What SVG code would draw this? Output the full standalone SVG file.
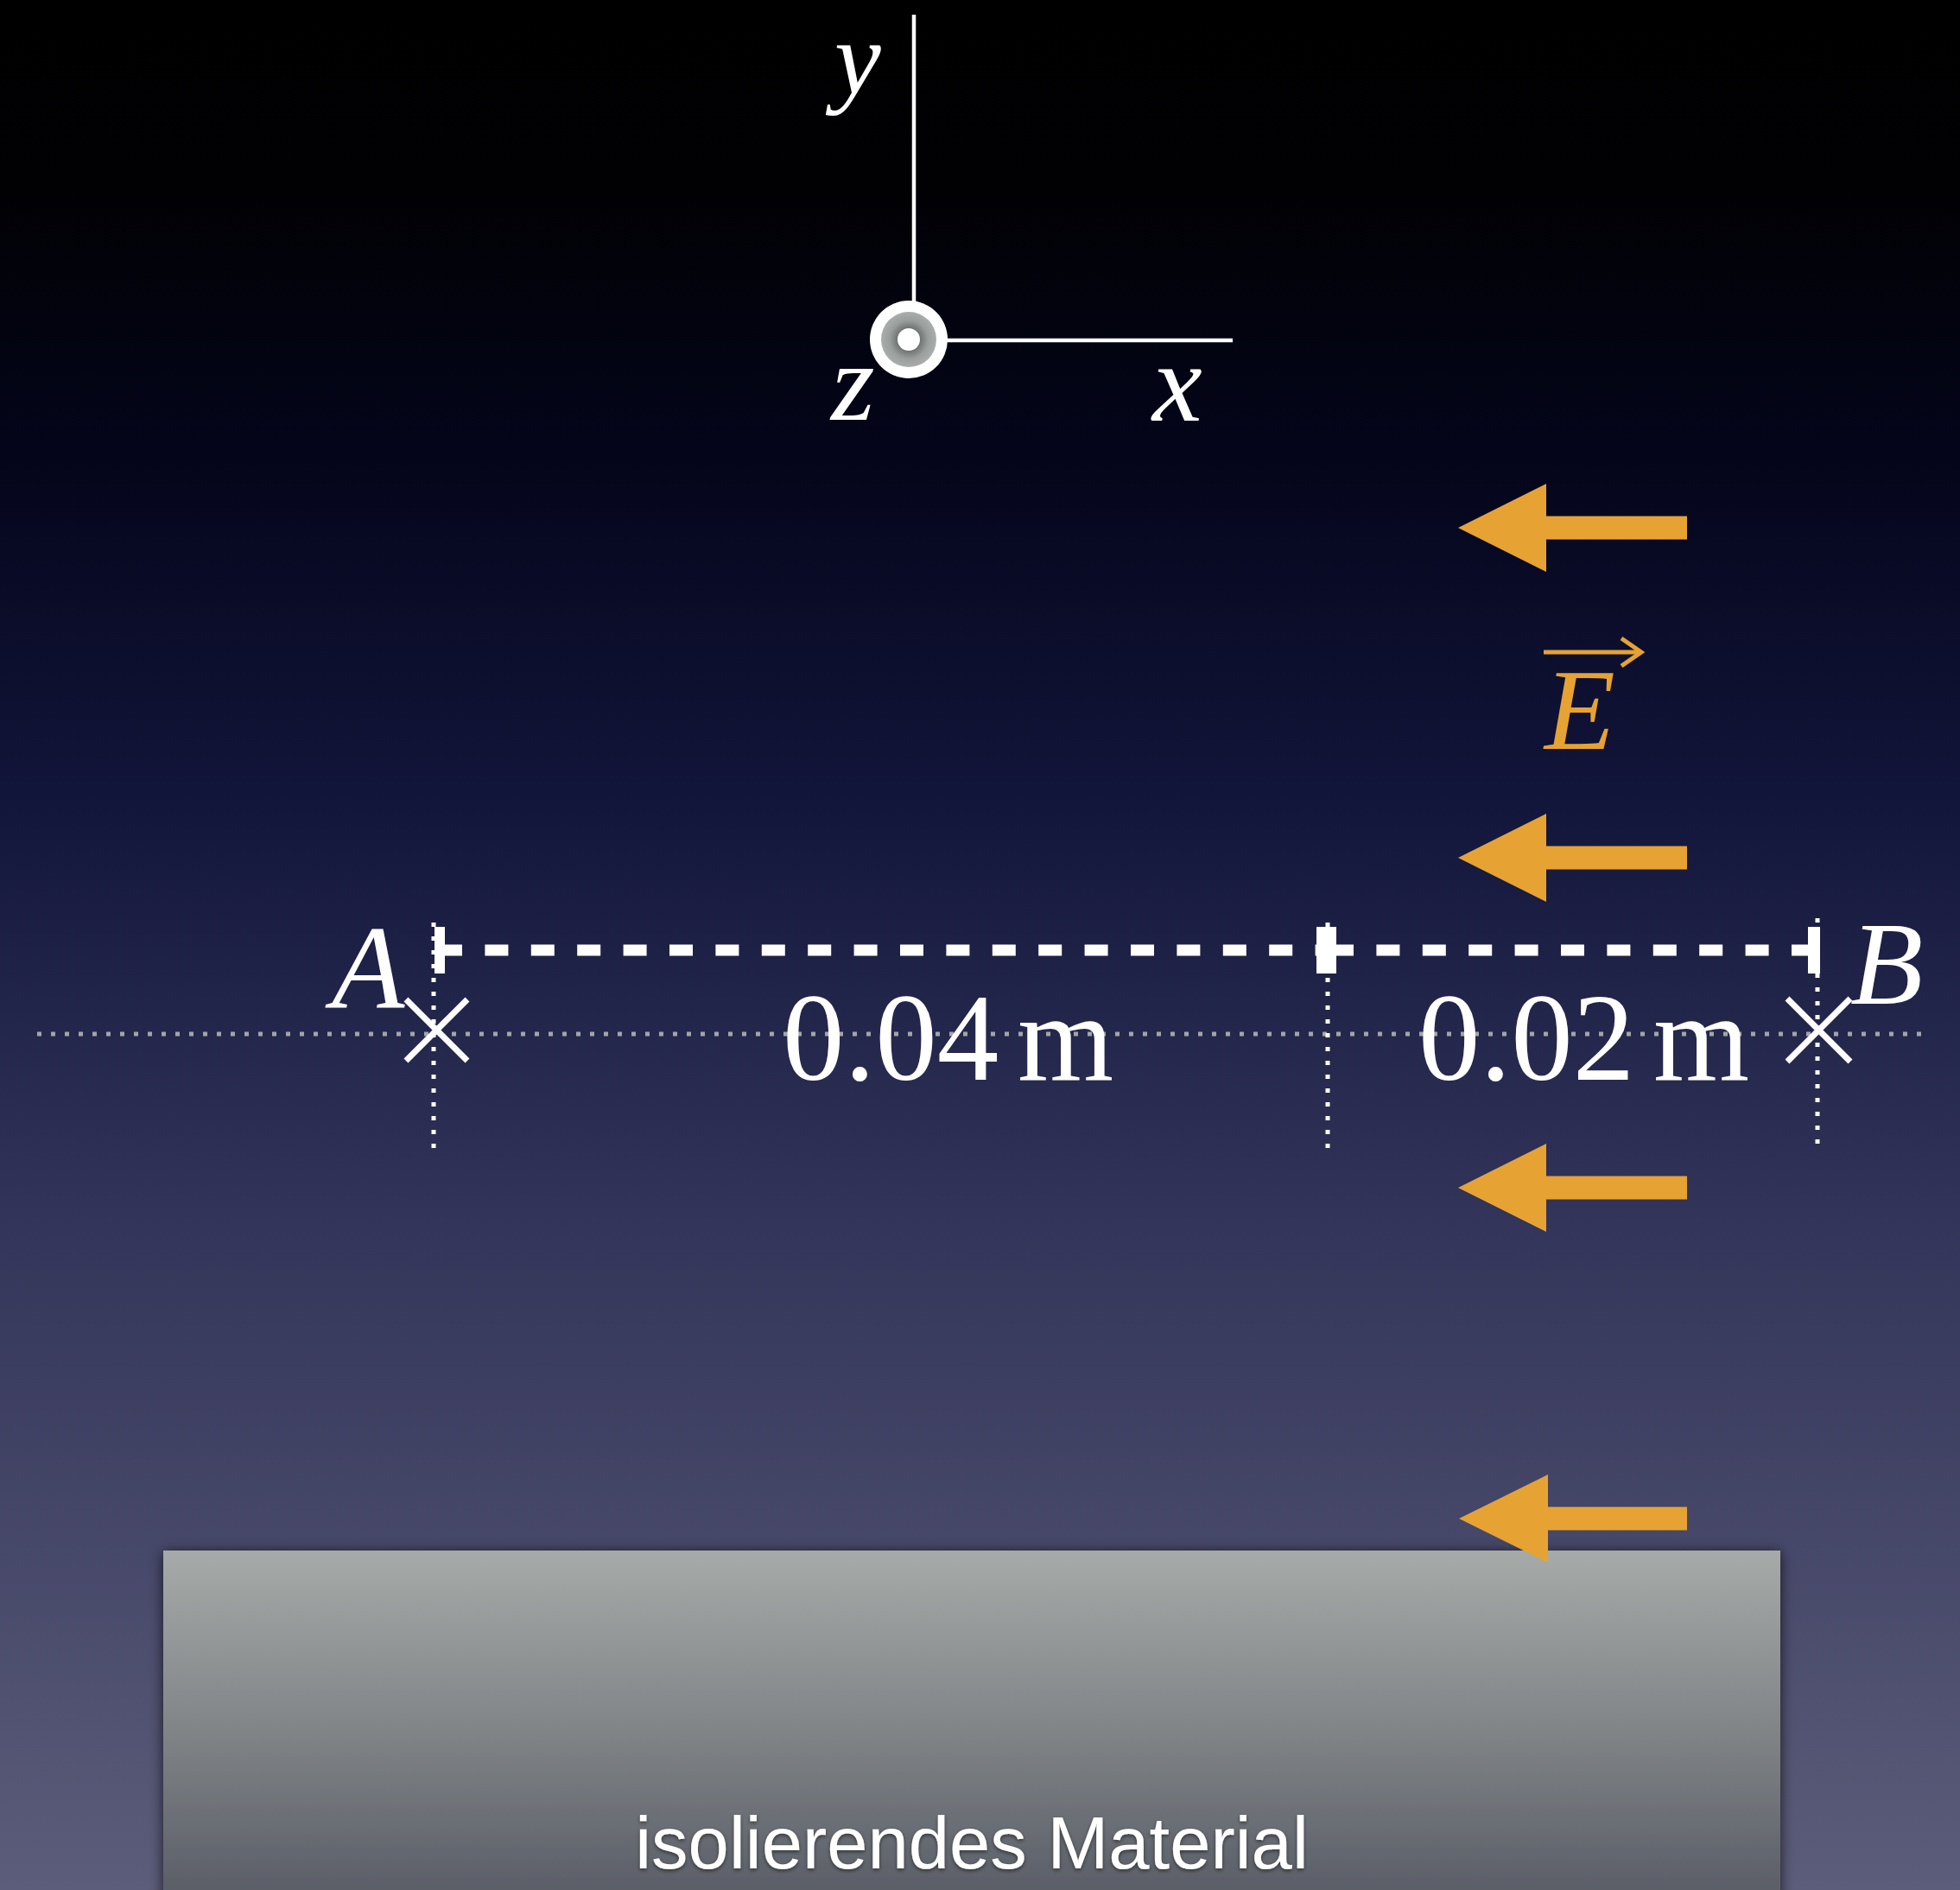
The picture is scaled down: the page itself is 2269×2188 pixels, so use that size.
<svg xmlns="http://www.w3.org/2000/svg" width="2269" height="2188" viewBox="0 0 2269 2188">
  <defs>
    <linearGradient id="bg" x1="0" y1="0" x2="0" y2="1">
      <stop offset="0" stop-color="#000000"/>
      <stop offset="0.1" stop-color="#010104"/>
      <stop offset="0.24" stop-color="#04051a"/>
      <stop offset="0.42" stop-color="#12153a"/>
      <stop offset="0.65" stop-color="#33355a"/>
      <stop offset="1" stop-color="#5c5d7a"/>
    </linearGradient>
    <linearGradient id="slab" x1="0" y1="0" x2="0" y2="1">
      <stop offset="0" stop-color="#a6aaa8"/>
      <stop offset="0.5" stop-color="#808487"/>
      <stop offset="1" stop-color="#555963"/>
    </linearGradient>
    <radialGradient id="zring" cx="0.5" cy="0.5" r="0.5">
      <stop offset="0.35" stop-color="#666a68"/>
      <stop offset="0.7" stop-color="#9a9e9c"/>
      <stop offset="1" stop-color="#a9adab"/>
    </radialGradient>
    <filter id="shadow" x="-5%" y="-10%" width="110%" height="120%">
      <feGaussianBlur in="SourceAlpha" stdDeviation="8"/>
      <feOffset dx="0" dy="2" result="b"/>
      <feComponentTransfer><feFuncA type="linear" slope="0.7"/></feComponentTransfer>
      <feMerge><feMergeNode/><feMergeNode in="SourceGraphic"/></feMerge>
    </filter>
    <filter id="tshadow" x="-5%" y="-20%" width="110%" height="140%">
      <feGaussianBlur in="SourceAlpha" stdDeviation="2"/>
      <feOffset dx="0" dy="2"/>
      <feComponentTransfer><feFuncA type="linear" slope="0.5"/></feComponentTransfer>
      <feMerge><feMergeNode/><feMergeNode in="SourceGraphic"/></feMerge>
    </filter>
  </defs>
  <style>
    .math { font-family: "Liberation Serif", "DejaVu Serif", serif; font-style: italic; fill: #ffffff; }
    .num { font-family: "Liberation Serif", "DejaVu Serif", serif; fill: #ffffff; }
    .axis { stroke: #ffffff; stroke-width: 4.5; fill: none; }
    .vdot { stroke: #ffffff; stroke-width: 5; stroke-dasharray: 5 11; fill: none; }
    .hdot { stroke: #a3a6a8; stroke-width: 5; stroke-dasharray: 5 11; fill: none; }
    .dash { stroke: #ffffff; stroke-width: 13; stroke-dasharray: 27 26.4; fill: none; }
    .tick { fill: #ffffff; }
    .cross { stroke: #ffffff; stroke-width: 7; fill: none; }
    .field { fill: #e6a333; }
  </style>

  <rect x="0" y="0" width="2269" height="2188" fill="url(#bg)"/>

  <g id="axes">
    <line class="axis" x1="1058" y1="17" x2="1058" y2="360"/>
    <line class="axis" x1="1090" y1="394" x2="1427" y2="394"/>
    <circle cx="1052" cy="393" r="45" fill="#ffffff"/>
    <circle cx="1052" cy="393" r="32" fill="url(#zring)"/>
    <circle cx="1052" cy="393" r="13" fill="#ffffff"/>
    <text class="math" x="966" y="108" font-size="121">y</text>
    <text class="math" x="962" y="486" font-size="130">z</text>
    <text class="math" x="1334" y="487" font-size="130">x</text>
  </g>

  <g id="guides">
    <line class="hdot" x1="43" y1="1197" x2="2224" y2="1197"/>
    <line class="vdot" x1="502" y1="1068" x2="502" y2="1330"/>
    <line class="vdot" x1="1537" y1="1068" x2="1537" y2="1330"/>
    <line class="vdot" x1="2104" y1="1063" x2="2104" y2="1325"/>
  </g>

  <g id="connectors">
    <line class="dash" x1="508" y1="1100" x2="1524" y2="1100"/>
    <line class="dash" x1="1540" y1="1100" x2="2093" y2="1100"/>
    <rect class="tick" x="503" y="1073" width="12" height="54"/>
    <rect class="tick" x="1524" y="1073" width="23" height="54"/>
    <rect class="tick" x="2093" y="1073" width="14" height="54"/>
  </g>

  <g id="pointA">
    <path class="cross" d="M470,1157 L541,1228 M541,1157 L470,1228"/>
    <text class="math" x="384" y="1166" font-size="138">A</text>
  </g>

  <g id="pointB">
    <path class="cross" d="M2069,1156 L2142,1229 M2142,1156 L2069,1229"/>
    <text class="math" x="2142" y="1162" font-size="138">B</text>
  </g>

  <g id="dist1">
    <text class="num" x="906" y="1250" font-size="143" word-spacing="-14">0.04 m</text>
  </g>
  <g id="dist2">
    <text class="num" x="1642" y="1250" font-size="143" word-spacing="-14">0.02 m</text>
  </g>

  <g id="material">
    <rect x="189" y="1795" width="1872" height="420" fill="url(#slab)" filter="url(#shadow)"/>
    <text x="1125" y="2163" font-family="'Liberation Sans', Arial, sans-serif" font-size="85" fill="#ffffff" text-anchor="middle" filter="url(#tshadow)">isolierendes Material</text>
  </g>

  <g id="field">
    <polygon class="field" points="1688,611 1790,560 1790,597.5 1953,597.5 1953,624.5 1790,624.5 1790,662"/>
    <polygon class="field" points="1688,993 1790,942 1790,979.5 1953,979.5 1953,1006.5 1790,1006.5 1790,1044"/>
    <polygon class="field" points="1688,1375 1790,1324 1790,1361.5 1953,1361.5 1953,1388.5 1790,1388.5 1790,1426"/>
    <polygon class="field" points="1689,1758 1792,1707 1792,1744.5 1953,1744.5 1953,1771.5 1792,1771.5 1792,1809"/>
  </g>

  <g id="fieldLabel">
    <line x1="1787" y1="755" x2="1897" y2="755" stroke="#e6a333" stroke-width="5"/>
    <path d="M1877,739 L1900,755 L1877,771" fill="none" stroke="#e6a333" stroke-width="5"/>
    <text class="math" x="1788" y="867" font-size="134" style="fill:#e6a333">E</text>
  </g>
</svg>
